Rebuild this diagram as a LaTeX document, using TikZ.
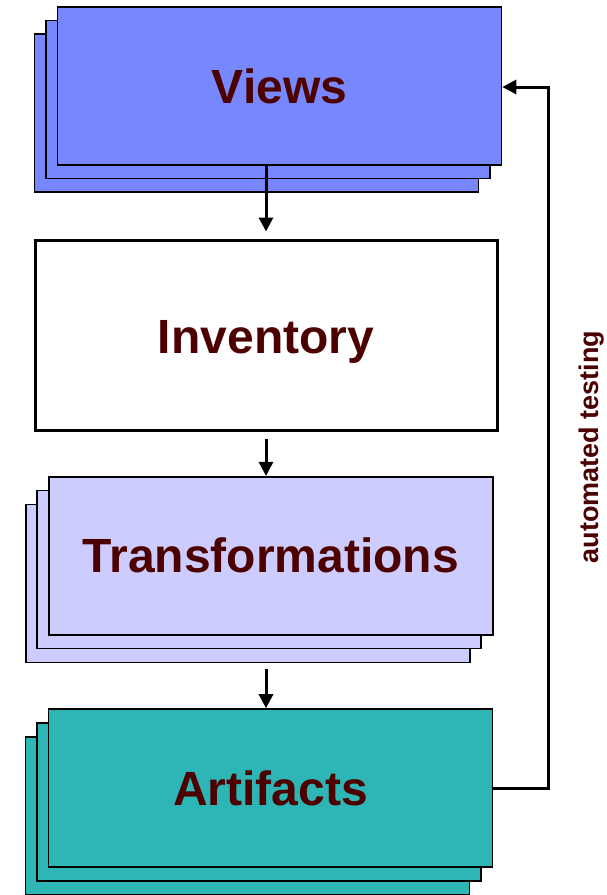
\documentclass[tikz,border=0pt]{standalone}
\usepackage{fontspec}
\setmainfont{Liberation Sans}
\usetikzlibrary{arrows.meta}
\definecolor{viewsfill}{HTML}{7788FF}
\definecolor{transfill}{HTML}{CCCCFF}
\definecolor{artfill}{HTML}{2EB5B5}
\definecolor{labelred}{HTML}{4D0000}
\tikzset{
  bigtext/.style={font=\bfseries\fontsize{48}{58}\selectfont, text=labelred},
  layer/.style={draw=black, line width=1.6pt, minimum width=444pt, minimum height=158pt,
    inner sep=0pt, bigtext},
  flow/.style={line width=3pt, -{Triangle[length=14pt,width=14pt]}},
}
\begin{document}
\begin{tikzpicture}[x=1pt,y=-1pt]
\useasboundingbox (0,0) rectangle (607,895);

% Views stack
\node[layer, fill=viewsfill] (views3) at (256.5,113) {};
\node[layer, fill=viewsfill] (views2) at (268,99.5) {};
\node[layer, fill=viewsfill] (views) at (279.5,86) {Views};

% Inventory box and its caption
\node[draw=black, line width=3pt, fill=white, minimum width=462pt, minimum height=190pt,
  inner sep=0pt] (inv) at (266,335) {};
\node[bigtext, inner sep=0pt] (invlbl) at (266,342) {Inventory};

% Transformations stack
\node[layer, fill=transfill] (trans3) at (247.7,583.5) {};
\node[layer, fill=transfill] (trans2) at (259.2,569.6) {};
\node[layer, fill=transfill] (trans) at (270.7,555.7) {Transformations};

% Artifacts stack
\node[layer, fill=artfill] (art3) at (247.5,816) {};
\node[layer, fill=artfill] (art2) at (259,802) {};
\node[layer, fill=artfill] (art) at (270.5,788) {Artifacts};

% Main flow
\draw[flow, shorten >=7pt] (inv.north |- views.south) -- (inv.north);
\draw[flow, shorten <=7pt] (inv.south) -- (inv.south |- trans.north);
\draw[flow, shorten <=6pt] (inv.south |- trans3.south) -- (inv.south |- art.north);

% Feedback loop
\coordinate (loopbot) at (548,788);
\coordinate (looptop) at (548,87);
\draw[flow] (art.east) -- (loopbot) -- (looptop) -- (views.east |- looptop);
\node[rotate=90, font=\bfseries\fontsize{27}{32}\selectfont, text=labelred] (testlbl) at (592,447) {automated testing};
\end{tikzpicture}
\end{document}
